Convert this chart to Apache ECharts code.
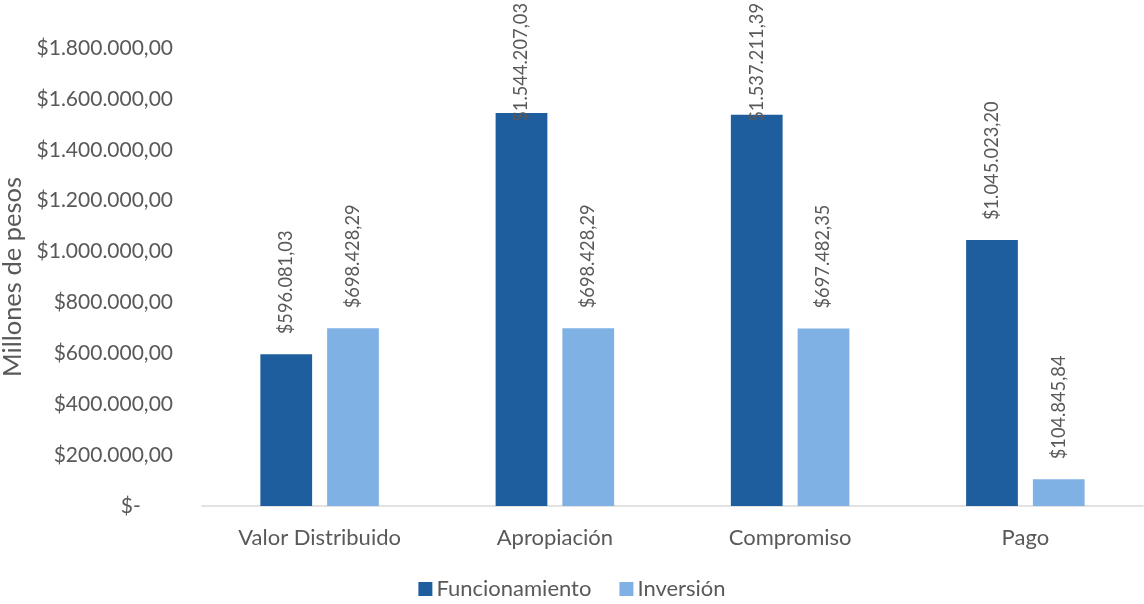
<!DOCTYPE html>
<html>
<head>
<meta charset="utf-8">
<script src="https://cdn.jsdelivr.net/npm/echarts@6/dist/echarts.min.js"></script>
<style>
  html, body { margin: 0; padding: 0; background: #fff; }
  #chart { width: 1144px; height: 604px; }
</style>
</head>
<body>
<div id="chart"></div>
<script>
// Budget execution by stage (millones de pesos)
const categories = ['Valor Distribuido', 'Apropiación', 'Compromiso', 'Pago'];
const funcionamiento = [596081.03, 1544207.03, 1537211.39, 1045023.20];
const inversion = [698428.29, 698428.29, 697482.35, 104845.84];
const seriesNames = ['Funcionamiento', 'Inversión'];
const yMin = 0, yMax = 1800000, yStep = 200000;

const FONT = 'Lato, "Open Sans", sans-serif';
const TEXT = '#595959';
const LABEL_GAP = 20;

// Spanish number format: 1.234.567,89
function fmt(v) {
  const parts = v.toFixed(2).split('.');
  const intPart = parts[0].replace(/\B(?=(\d{3})+(?!\d))/g, '.');
  return '$' + intPart + ',' + parts[1];
}

const labelCfg = {
  show: true,
  position: 'top',
  rotate: 90,
  align: 'left',
  verticalAlign: 'middle',
  distance: LABEL_GAP,
  fontFamily: FONT,
  fontSize: 18.3,
  color: TEXT,
  formatter: p => fmt(p.value)
};

const chart = echarts.init(document.getElementById('chart'), null, { renderer: 'canvas' });
chart.setOption({
  animation: false,
  backgroundColor: '#ffffff',
  grid: { left: 202, right: 1, top: 48, bottom: 98, outerBoundsMode: 'none', containLabel: false },
  legend: {
    data: seriesNames,
    bottom: -1,
    left: 'center',
    itemWidth: 14,
    itemHeight: 14,
    itemGap: 28,
    icon: 'rect',
    textStyle: { fontFamily: FONT, fontSize: 22, color: TEXT, padding: [0, 0, 0, -1] }
  },
  xAxis: {
    type: 'category',
    data: categories,
    axisLine: { show: true, lineStyle: { color: '#d9d9d9', width: 1.5 } },
    axisTick: { show: false },
    axisLabel: { fontFamily: FONT, fontSize: 22, color: TEXT, margin: 21 }
  },
  yAxis: {
    type: 'value',
    min: yMin,
    max: yMax,
    interval: yStep,
    name: 'Millones de pesos',
    nameLocation: 'middle',
    nameRotate: 90,
    nameGap: 166,
    nameTextStyle: { fontFamily: FONT, fontSize: 25.5, color: TEXT },
    splitLine: { show: false },
    axisLine: { show: false },
    axisTick: { show: false },
    axisLabel: {
      fontFamily: FONT, fontSize: 21, color: TEXT, margin: 29,
      formatter: v => v === 0 ? '$-      ' : fmt(v)
    }
  },
  series: [
    {
      name: seriesNames[0],
      type: 'bar',
      data: funcionamiento,
      barWidth: '22%',
      barGap: '29%',
      itemStyle: { color: '#1F5E9E' },
      label: labelCfg
    },
    {
      name: seriesNames[1],
      type: 'bar',
      data: inversion,
      barWidth: '22%',
      itemStyle: { color: '#7FB1E5' },
      label: labelCfg
    }
  ],
  // pull tall labels down so they stay inside the canvas top edge
  labelLayout: function (params) {
    const r = params.labelRect;
    const bar = params.rect;
    if (!r || !bar) return {};
    const len = Math.max(r.width, r.height);
    const anchorY = bar.y - LABEL_GAP;
    if (anchorY - len < 3) {
      return { y: len + 3 };
    }
    return {};
  }
});
</script>
</body>
</html>
